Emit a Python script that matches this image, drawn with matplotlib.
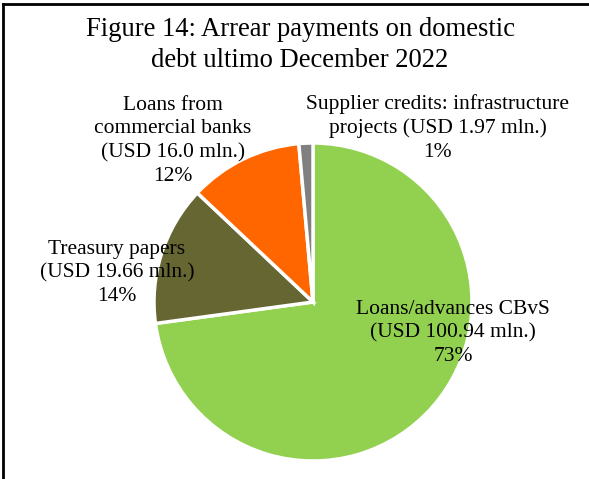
import matplotlib

matplotlib.use("Agg")
import matplotlib.pyplot as plt  # noqa: E402
from matplotlib.lines import Line2D  # noqa: E402

plt.rcParams["font.family"] = ["Liberation Serif", "DejaVu Serif"]

# 欠款构成（百万美元），顺时针从 12 点方向开始
names = [
    "Loans/advances CBvS",
    "Treasury papers",
    "Loans from\ncommercial banks",
    "Supplier credits: infrastructure\nprojects",
]
values = [100.94, 19.66, 16.0, 1.97]
colors = ["#92D050", "#666633", "#FF6600", "#808080"]

# 名称与金额之间的分隔；最后一项金额接在同一行
seps = ["\n", "\n", "\n", " "]
# 标签中心位置（以饼半径为单位）
label_pos = [(0.88, -0.195), (-1.233, 0.182), (-0.88, 1.013), (0.786, 1.094)]

W, H = 589, 479
fig = plt.figure(figsize=(W / 100, H / 100), dpi=100)

cx, cy, r = 313, 302, 159
ax = fig.add_axes([(cx - r) / W, (H - cy - r) / H, 2 * r / W, 2 * r / H])
ax.pie(values, colors=colors, startangle=90, counterclock=False, radius=1,
       wedgeprops={"edgecolor": "white", "linewidth": 2.5})
ax.set_xlim(-1, 1)
ax.set_ylim(-1, 1)
ax.set_aspect("equal")
ax.axis("off")

total = sum(values)
for name, v, sep, (x, y) in zip(names, values, seps, label_pos):
    pct = round(v / total * 100)
    ax.text(x, y, f"{name}{sep}(USD {v} mln.)\n{pct}%", ha="center", va="center",
            fontsize=15.5, linespacing=1.34, color="black", clip_on=False)

fig.text(300 / W, 1 - 45 / H, "Figure 14: Arrear payments on domestic\ndebt ultimo December 2022",
         ha="center", va="center", fontsize=19.2, linespacing=1.3)

# 外框（左、上）
fig.add_artist(Line2D([2.5 / W, 2.5 / W], [0, 1 - 3.5 / H], color="black", lw=2,
                      transform=fig.transFigure))
fig.add_artist(Line2D([2.5 / W, 1], [1 - 3.5 / H, 1 - 3.5 / H], color="black", lw=2,
                      transform=fig.transFigure))

fig.savefig("out.png", dpi=100)
